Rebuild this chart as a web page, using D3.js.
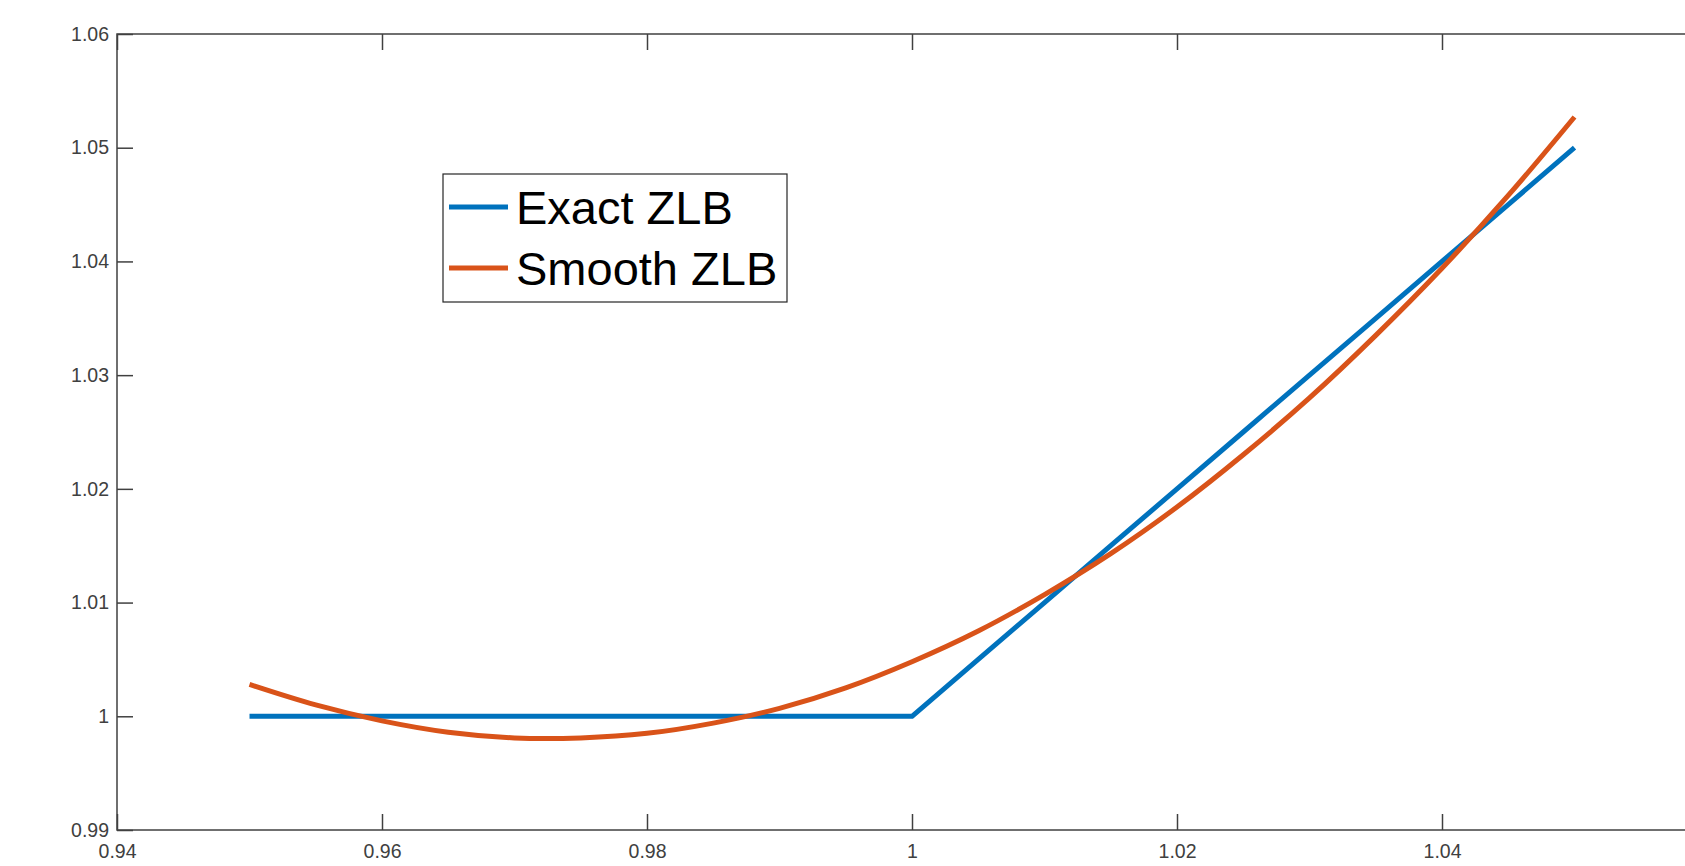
<!DOCTYPE html>
<html>
<head>
<meta charset="utf-8">
<script src="https://cdn.jsdelivr.net/npm/d3@7"></script>
<style>
  body { margin: 0; background: #fff; }
  svg { display: block; }
</style>
</head>
<body>
<svg id="chart"></svg>
<script>
// values
const xs = [0.95, 0.955, 0.96, 0.965, 0.97, 0.975, 0.98, 0.985, 0.99, 0.995, 1.0,
            1.005, 1.01, 1.015, 1.02, 1.025, 1.03, 1.035, 1.04, 1.045, 1.05];
const exactZLB = [1, 1, 1, 1, 1, 1, 1, 1, 1, 1, 1,
                  1.005, 1.01, 1.015, 1.02, 1.025, 1.03, 1.035, 1.04, 1.045, 1.05];
const smoothZLB = [1.0028, 1.0010, 0.9996, 0.9986, 0.9981, 0.9981, 0.9985, 0.9994, 1.0007, 1.0025, 1.0048,
                   1.0075, 1.0107, 1.0143, 1.0184, 1.0230, 1.0280, 1.0335, 1.0394, 1.0458, 1.0527];
const seriesNames = ["Exact ZLB", "Smooth ZLB"];
// 1.06 sits just past the right edge of the window, so it's left out
const xTicks = [0.94, 0.96, 0.98, 1, 1.02, 1.04];
const yTicks = [0.99, 1, 1.01, 1.02, 1.03, 1.04, 1.05, 1.06];

const width = 1685, height = 866;
const mLeft = 117, mTop = 34, mBottom = 830, mRight = 1707; // right edge falls outside the window
const axisColor = "#404040";
const colors = ["#0072BD", "#D95319"];

const svg = d3.select("#chart")
  .attr("width", width)
  .attr("height", height)
  .attr("viewBox", [0, 0, width, height]);

const x = d3.scaleLinear().domain([0.94, 1.06]).range([mLeft, mRight]);
const y = d3.scaleLinear().domain([0.99, 1.06]).range([mBottom, mTop]);

const fmt = d => String(+d.toFixed(2));

// bottom axis, ticks pointing in
svg.append("g")
  .attr("transform", `translate(0,${mBottom})`)
  .call(d3.axisBottom(x).tickValues(xTicks).tickSizeInner(-16).tickSizeOuter(0).tickPadding(14).tickFormat(fmt))
  .call(g => g.select(".domain").remove());

// top axis, ticks only
svg.append("g")
  .attr("transform", `translate(0,${mTop})`)
  .call(d3.axisTop(x).tickValues(xTicks).tickSizeInner(-16).tickSizeOuter(0).tickFormat(""))
  .call(g => g.select(".domain").remove());

// left axis
svg.append("g")
  .attr("transform", `translate(${mLeft},0)`)
  .call(d3.axisLeft(y).tickValues(yTicks).tickSizeInner(-16).tickSizeOuter(0).tickPadding(8).tickFormat(fmt))
  .call(g => g.select(".domain").remove());

svg.selectAll(".tick line")
  .attr("stroke", axisColor)
  .attr("stroke-width", 1.5);
svg.selectAll(".tick text")
  .attr("fill", axisColor)
  .attr("font-family", "'Liberation Sans', Arial, sans-serif")
  .attr("font-size", 19.5);

// frame
svg.append("rect")
  .attr("x", mLeft)
  .attr("y", mTop)
  .attr("width", mRight - mLeft)
  .attr("height", mBottom - mTop)
  .attr("fill", "none")
  .attr("stroke", axisColor)
  .attr("stroke-width", 1.5);

const series = [exactZLB, smoothZLB];
const line = d3.line()
  .x((d, i) => x(xs[i]))
  .y(d => y(d));

svg.append("g")
  .selectAll("path")
  .data(series)
  .join("path")
    .attr("d", (d, i) => i === 1 ? line.curve(d3.curveCatmullRom)(d) : line.curve(d3.curveLinear)(d))
    .attr("fill", "none")
    .attr("stroke", (d, i) => colors[i])
    .attr("stroke-width", 5)
    .attr("stroke-linejoin", "round");

// legend
const legend = svg.append("g");
legend.append("rect")
  .attr("x", 443)
  .attr("y", 174)
  .attr("width", 344)
  .attr("height", 128)
  .attr("fill", "#fff")
  .attr("stroke", "#262626")
  .attr("stroke-width", 1.2);

const items = legend.selectAll(".item")
  .data(seriesNames)
  .join("g")
    .attr("class", "item")
    .attr("transform", (d, i) => `translate(449,${207 + 61 * i})`);
items.append("line")
  .attr("x1", 0)
  .attr("x2", 59)
  .attr("stroke", (d, i) => colors[i])
  .attr("stroke-width", 5);
items.append("text")
  .attr("x", 67)
  .attr("y", 17)
  .attr("font-family", "'Liberation Sans', Arial, sans-serif")
  .attr("font-size", 47)
  .attr("fill", "#000")
  .text(d => d);
</script>
</body>
</html>
